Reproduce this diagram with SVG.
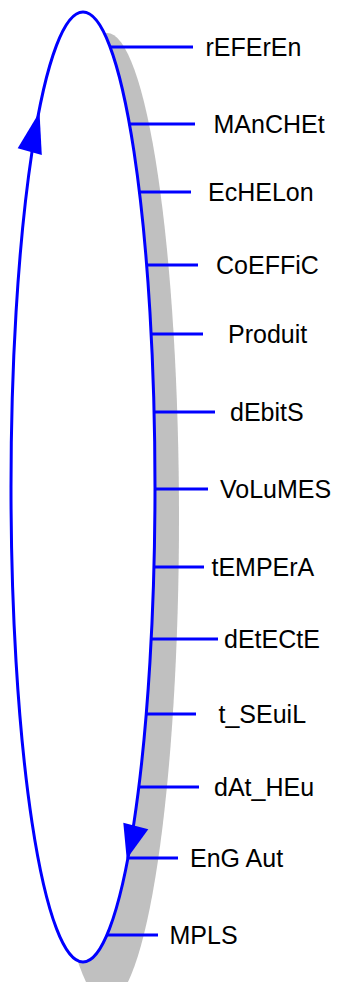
<svg xmlns="http://www.w3.org/2000/svg" width="340" height="982" viewBox="0 0 340 982">
  <style>
    .ring { fill: #ffffff; stroke: #0000ff; stroke-width: 3; }
    .shadow { fill: #c0c0c0; stroke: none; }
    .tick { stroke: #0000ff; stroke-width: 3; fill: none; }
    .head { fill: #0000ff; stroke: none; }
    .label { font-family: "Liberation Sans", Arial, sans-serif; font-size: 25px; fill: #000000; }
  </style>
  <rect width="340" height="982" fill="#ffffff"/>

  <!-- cycle ring with its drop shadow -->
  <g id="cycle">
    <ellipse class="shadow" cx="107" cy="518" rx="72" ry="485"/>
    <ellipse class="ring" cx="83" cy="487" rx="72" ry="475"/>
  </g>

  <!-- ticks from the ring to each stage, plus direction arrows -->
  <g id="connectors">
    <line class="tick" x1="109" y1="47" x2="193" y2="47"/>
    <line class="tick" x1="128.5" y1="124" x2="195" y2="124"/>
    <line class="tick" x1="138.5" y1="192" x2="191" y2="192"/>
    <line class="tick" x1="146" y1="265" x2="198" y2="265"/>
    <line class="tick" x1="150.5" y1="334" x2="203" y2="334"/>
    <line class="tick" x1="153.5" y1="412" x2="215" y2="412"/>
    <line class="tick" x1="154.5" y1="489" x2="208" y2="489"/>
    <line class="tick" x1="153.5" y1="567" x2="204" y2="567"/>
    <line class="tick" x1="150.5" y1="639" x2="218" y2="639"/>
    <line class="tick" x1="145.5" y1="714" x2="196" y2="714"/>
    <line class="tick" x1="138" y1="787" x2="199" y2="787"/>
    <line class="tick" x1="127" y1="858" x2="178" y2="858"/>
    <line class="tick" x1="106" y1="935" x2="158" y2="935"/>
    <polygon class="head" points="39.5,112 17.7,148.3 41.8,155"/>
    <polygon class="head" points="126.7,859 123.3,822.7 148.3,829.3"/>
  </g>

  <g id="n-referen"><text class="label" x="205.5" y="56">rEFErEn</text></g>
  <g id="n-manchet"><text class="label" x="213.5" y="133">MAnCHEt</text></g>
  <g id="n-echelon"><text class="label" x="208" y="201">EcHELon</text></g>
  <g id="n-coeffic"><text class="label" x="216" y="274">CoEFFiC</text></g>
  <g id="n-produit"><text class="label" x="228" y="343">Produit</text></g>
  <g id="n-debits"><text class="label" x="230" y="421">dEbitS</text></g>
  <g id="n-volumes"><text class="label" x="220" y="498">VoLuMES</text></g>
  <g id="n-tempera"><text class="label" x="211.5" y="576">tEMPErA</text></g>
  <g id="n-detecte"><text class="label" x="224" y="648">dEtECtE</text></g>
  <g id="n-tseuil"><text class="label" x="218.5" y="723">t_SEuiL</text></g>
  <g id="n-dathEu"><text class="label" x="214" y="796">dAt_HEu</text></g>
  <g id="n-engaut"><text class="label" x="190" y="867">EnG Aut</text></g>
  <g id="n-mpls"><text class="label" x="169.5" y="944">MPLS</text></g>
</svg>
